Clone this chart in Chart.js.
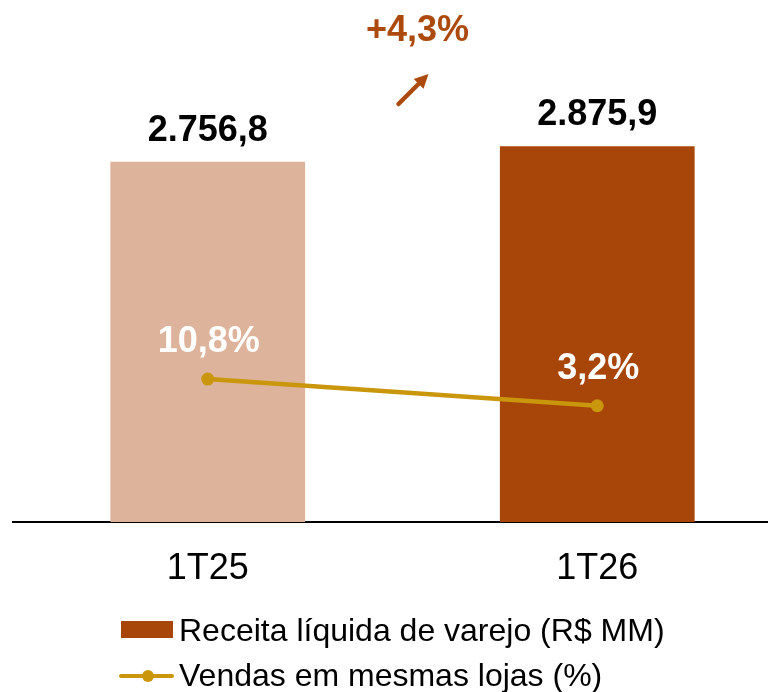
<!DOCTYPE html>
<html>
<head>
<meta charset="utf-8">
<script src="https://cdn.jsdelivr.net/npm/chart.js@4/dist/chart.umd.min.js"></script>
<style>
  html, body { margin: 0; padding: 0; background: #fff; overflow: hidden; }
  #wrap { position: relative; width: 792px; height: 692px; }
  .leg { position: absolute; left: 0; font: 32px 'Liberation Sans', Arial, sans-serif; line-height: 32px; color: #000; white-space: nowrap; }
  .leg span.txt { position: absolute; left: 179px; top: 0; }
  .box { position: absolute; left: 121px; top: 7px; width: 52px; height: 17px; background: #A8460A; }
  .ln { position: absolute; left: 119px; top: 15px; width: 55px; height: 4px; background: #C9960C; border-radius: 2px; }
  .dot { position: absolute; left: 142px; top: 11px; width: 12px; height: 12px; border-radius: 50%; background: #C9960C; }
</style>
</head>
<body>
<div id="wrap">
  <canvas id="c" width="792" height="692"></canvas>
  <div class="leg" style="top:614px;"><div class="box"></div><span class="txt">Receita líquida de varejo (R$ MM)</span></div>
  <div class="leg" style="top:659px;"><div class="ln"></div><div class="dot"></div><span class="txt">Vendas em mesmas lojas (%)</span></div>
</div>
<script>
// data
const periods = ['1T25', '1T26'];
const receita = [2756.8, 2875.9];
const vendasMesmasLojas = [10.8, 3.2];
const receitaLabels = ['2.756,8', '2.875,9'];
const vendasLabels = ['10,8%', '3,2%'];
const growthLabel = '+4,3%';

const FONT = "'Liberation Sans', Arial, sans-serif";

// value labels above bars / points
const labelPlugin = {
  id: 'labels',
  afterDatasetsDraw(chart) {
    const ctx = chart.ctx;
    ctx.save();
    ctx.textAlign = 'center';
    ctx.textBaseline = 'alphabetic';
    ctx.font = 'bold 36px ' + FONT;
    chart.getDatasetMeta(1).data.forEach((el, i) => {
      ctx.fillStyle = '#000';
      ctx.fillText(receitaLabels[i], el.x, el.y - 21);
    });
    chart.getDatasetMeta(0).data.forEach((el, i) => {
      ctx.fillStyle = '#fff';
      ctx.fillText(vendasLabels[i], el.x + 1, el.y - 27);
    });

    // growth arrow between the bars
    const bars = chart.getDatasetMeta(1).data;
    const mid = (bars[0].x + bars[1].x) / 2;
    const x1 = mid - 4, y1 = 104, x2 = mid + 26, y2 = 74;
    ctx.strokeStyle = '#AB4A0C';
    ctx.fillStyle = '#AB4A0C';
    ctx.lineWidth = 4.5;
    ctx.lineCap = 'round';
    ctx.beginPath();
    ctx.moveTo(x1, y1);
    ctx.lineTo(x2 - 6, y2 + 6);
    ctx.stroke();
    const ang = Math.atan2(y2 - y1, x2 - x1);
    const hl = 14, hw = 7;
    ctx.beginPath();
    ctx.moveTo(x2, y2);
    ctx.lineTo(x2 - hl * Math.cos(ang) + hw * Math.sin(ang), y2 - hl * Math.sin(ang) - hw * Math.cos(ang));
    ctx.lineTo(x2 - hl * Math.cos(ang) - hw * Math.sin(ang), y2 - hl * Math.sin(ang) + hw * Math.cos(ang));
    ctx.closePath();
    ctx.fill();
    ctx.fillText(growthLabel, mid + 15, 41);
    ctx.restore();
  }
};

new Chart(document.getElementById('c').getContext('2d'), {
  data: {
    labels: periods,
    datasets: [{
      type: 'line',
      label: 'Vendas em mesmas lojas (%)',
      data: vendasMesmasLojas,
      yAxisID: 'y2',
      borderColor: '#C9960C',
      backgroundColor: '#C9960C',
      borderWidth: 4.5,
      pointRadius: 6.5,
      pointBorderWidth: 0,
      tension: 0,
      order: 0
    }, {
      type: 'bar',
      label: 'Receita líquida de varejo (R$ MM)',
      data: receita,
      backgroundColor: ['#DEB39B', '#A8460A'],
      barPercentage: 0.5,
      categoryPercentage: 1,
      order: 1
    }]
  },
  options: {
    responsive: false,
    animation: false,
    layout: { autoPadding: false, padding: { left: 13, right: 0, top: 0, bottom: 0 } },
    plugins: { legend: { display: false }, tooltip: { enabled: false } },
    scales: {
      x: {
        grid: { display: false, drawTicks: false },
        border: { display: true, color: '#000', width: 2 },
        ticks: { color: '#000', font: { family: FONT, size: 36 }, padding: 25 },
        afterFit(scale) { scale.height = 170; }
      },
      y: { display: false, min: 0, max: 3995 },
      y2: { display: false, min: -29.9, max: 118.7 }
    }
  },
  plugins: [labelPlugin]
});
</script>
</body>
</html>
